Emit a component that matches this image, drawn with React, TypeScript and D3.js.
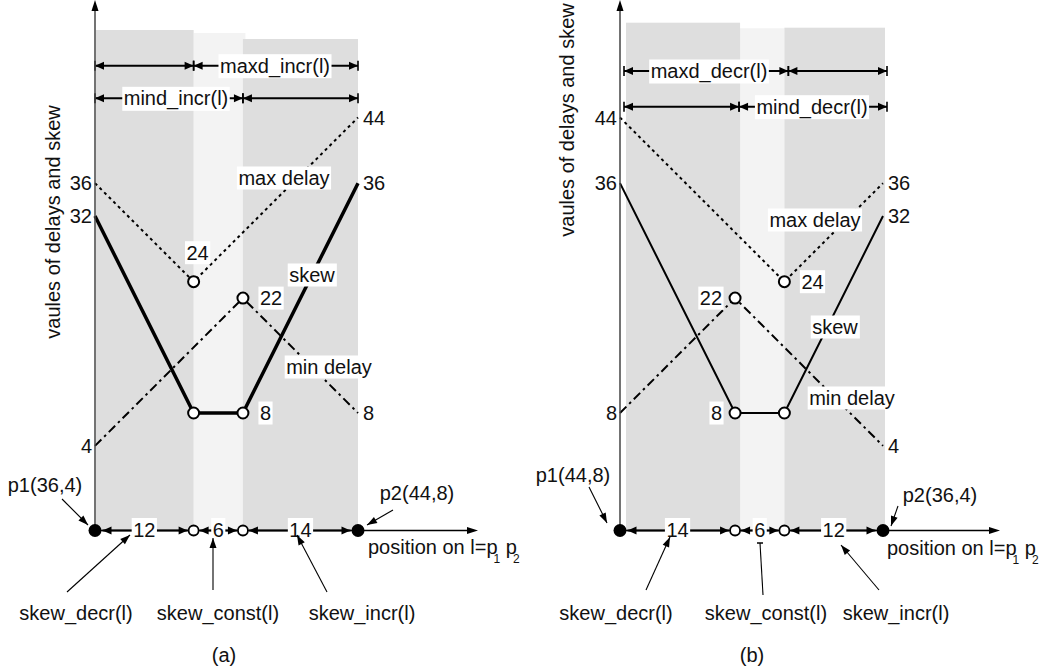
import React, { useRef, useEffect } from 'react';
import * as d3 from 'd3';

const FONT = '"Liberation Sans", Arial, Helvetica, sans-serif';

// ── Data: breakpoints on l and the three curves for each case ───────────────
const breaksA = [0, 12, 18, 32];
const maxDelayA = [[0, 36], [12, 24], [32, 44]];
const minDelayA = [[0, 4], [18, 22], [32, 8]];
const skewA = [[0, 32], [12, 8], [18, 8], [32, 36]];

const breaksB = [0, 14, 20, 32];
const maxDelayB = [[0, 44], [20, 24], [32, 36]];
const minDelayB = [[0, 8], [14, 22], [32, 4]];
const skewB = [[0, 36], [14, 8], [20, 8], [32, 32]];

const curveNames = ['max delay', 'skew', 'min delay'];
const regionNames = ['skew_decr(l)', 'skew_const(l)', 'skew_incr(l)'];
const yTitle = 'vaules of delays and skew';

const W = 1049;
const H = 672;
const AXIS_Y = 530.5;

const panels = [
  {
    ox: 95, tip: 478, breaks: breaksA, maxDelay: maxDelayA, minDelay: minDelayA, skew: skewA,
    skewWidth: 3.5, bandTops: [30, 33, 39], bandPad: [1, 2.5, 0], title: [53, 222], dimDx: 0,
    dims: [
      { y: 65.7, split: 1, label: 'maxd_incr(l)', seg: 1, lx: 275 },
      { y: 98.3, split: 2, label: 'mind_incr(l)', seg: 0, lx: 176 },
    ],
    place: { max: ['L', 'T', 'R'], min: ['L', 'Rb', 'R'], skew: ['L', null, 'Rb', 'R'] },
    curveLbl: [[284, 178], [312, 275], [329, 367]],
    p1: { x: 45, y: 485, from: [62, 499], to: [88, 525] },
    p2: { x: 417, y: 493, from: [393, 510], to: [367, 525] },
    posText: [368, 547],
    regions: [
      { x: 76, from: [67, 592], to: [130, 535] },
      { x: 218, from: [213, 590], to: [213, 538] },
      { x: 362, from: [327, 592], to: [297, 535] },
    ],
    caption: ['(a)', 224],
  },
  {
    ox: 620, tip: 1000, breaks: breaksB, maxDelay: maxDelayB, minDelay: minDelayB, skew: skewB,
    skewWidth: 2, bandTops: [22.7, 28.3, 27.7], bandPad: [6, 0, 2], title: [567, 120], dimDx: 4,
    dims: [
      { y: 71, split: 2, label: 'maxd_decr(l)', seg: 0, lx: 709 },
      { y: 106.7, split: 1, label: 'mind_decr(l)', seg: 1, lx: 812 },
    ],
    place: { max: ['L', 'Rb', 'R'], min: ['L', 'Lb', 'R'], skew: ['L', 'Lb', null, 'R'] },
    curveLbl: [[815, 220], [835, 327], [852, 398]],
    p1: { x: 573, y: 475, from: [589, 487], to: [607, 523] },
    p2: { x: 940, y: 495, from: [898, 506], to: [891, 526] },
    posText: [887, 548],
    regions: [
      { x: 616, from: [646, 590], to: [670, 537] },
      { x: 766, from: [763, 595], to: [760, 543], flat: true },
      { x: 896, from: [879, 590], to: [841, 545] },
    ],
    caption: ['(b)', 752],
  },
];

function label(g, text, x, y, anchor, bg) {
  const t = g.append('text')
    .attr('x', x).attr('y', y).attr('dy', '0.35em')
    .attr('text-anchor', anchor)
    .attr('font-family', FONT).attr('font-size', 20)
    .attr('fill', '#111')
    .text(text);
  if (bg) {
    const b = t.node().getBBox();
    g.insert('rect', () => t.node())
      .attr('x', b.x - 1.5).attr('y', b.y - 0.5)
      .attr('width', b.width + 3).attr('height', b.height + 1)
      .attr('fill', '#fff');
  }
  return t;
}

function head(g, x, y, dir, len = 9, half = 4) {
  // filled triangle, tip at (x,y), pointing along dir (radians)
  const c = Math.cos(dir), s = Math.sin(dir);
  const bx = x - c * len, by = y - s * len;
  g.append('path')
    .attr('d', `M${x},${y}L${bx - s * half},${by + c * half}L${bx + s * half},${by - c * half}Z`)
    .attr('fill', '#000');
}

function pointer(g, from, to, flat) {
  g.append('line')
    .attr('x1', from[0]).attr('y1', from[1]).attr('x2', to[0]).attr('y2', to[1])
    .attr('stroke', '#000').attr('stroke-width', 1.1);
  if (flat) {
    g.append('line')
      .attr('x1', to[0] - 3).attr('x2', to[0] + 3).attr('y1', to[1]).attr('y2', to[1])
      .attr('stroke', '#000').attr('stroke-width', 1.5);
  } else {
    head(g, to[0], to[1], Math.atan2(to[1] - from[1], to[0] - from[0]), 10, 3.5);
  }
}

function dimLine(g, x1, x2, y, ticks) {
  g.append('line')
    .attr('x1', x1).attr('x2', x2).attr('y1', y).attr('y2', y)
    .attr('stroke', '#000').attr('stroke-width', 2);
  head(g, x1, y, Math.PI);
  head(g, x2, y, 0);
  if (ticks) {
    [x1, x2].forEach(x => {
      g.append('line')
        .attr('x1', x).attr('x2', x).attr('y1', y - 5).attr('y2', y + 5)
        .attr('stroke', '#000').attr('stroke-width', 1.6);
    });
  }
}

function drawPanel(svg, p) {
  const x = d3.scaleLinear().domain([0, 32]).range([p.ox, p.ox + 263]);
  const y = d3.scaleLinear().domain([0, 44]).range([478.7, 117.5]);
  const g = svg.append('g');
  const b = p.breaks;

  // ── Bands ──
  const bands = [
    { x0: x(b[0]) + p.bandPad[0], x1: x(b[1]) + (p.ox > 500 ? 5 : 0), top: p.bandTops[0], fill: '#dedede' },
    { x0: x(b[1]), x1: x(b[2]) + p.bandPad[1], top: p.bandTops[1], fill: '#f3f3f3' },
    { x0: x(b[2]), x1: x(b[3]) + p.bandPad[2], top: p.bandTops[2], fill: '#dedede' },
  ];
  [bands[1], bands[0], bands[2]].forEach(bd => {
    g.append('rect')
      .attr('x', bd.x0).attr('y', bd.top)
      .attr('width', bd.x1 - bd.x0).attr('height', AXIS_Y - bd.top)
      .attr('fill', bd.fill);
  });

  // ── Dimension rows (maxd / mind) ──
  p.dims.forEach(d => {
    const xs = [x(b[0]), x(b[d.split]), x(b[3])].map(v => v + p.dimDx);
    dimLine(g, xs[0], xs[1], d.y, true);
    dimLine(g, xs[1], xs[2], d.y, true);
    label(g, d.label, d.lx, d.y, 'middle', true);
  });

  // ── Curves ──
  const line = d3.line().x(d => x(d[0])).y(d => y(d[1]));
  g.append('path').datum(p.maxDelay).attr('d', line)
    .attr('fill', 'none').attr('stroke', '#000').attr('stroke-width', 2)
    .attr('stroke-dasharray', '3,3.5');
  g.append('path').datum(p.minDelay).attr('d', line)
    .attr('fill', 'none').attr('stroke', '#000').attr('stroke-width', 2)
    .attr('stroke-dasharray', '9,4,2.5,4');
  g.append('path').datum(p.skew).attr('d', line)
    .attr('fill', 'none').attr('stroke', '#000').attr('stroke-width', p.skewWidth);

  // ── Open circles at turning points ──
  [p.maxDelay[1], p.minDelay[1], p.skew[1], p.skew[2]].forEach(pt => {
    g.append('circle')
      .attr('cx', x(pt[0])).attr('cy', y(pt[1])).attr('r', 5.5)
      .attr('fill', '#fff').attr('stroke', '#000').attr('stroke-width', 2);
  });

  // ── Value labels ──
  const put = (pts, modes) => pts.forEach((pt, i) => {
    const m = modes[i];
    if (!m) return;
    const px = x(pt[0]), py = y(pt[1]);
    const t = String(pt[1]);
    if (m === 'L') label(g, t, px - 3, py, 'end', false);
    if (m === 'R') label(g, t, px + 5, py, 'start', false);
    if (m === 'T') label(g, t, px + 4, py - 29, 'middle', true);
    if (m === 'Rb') label(g, t, px + 17, py, 'start', true);
    if (m === 'Lb') label(g, t, px - 13, py, 'end', true);
  });
  put(p.maxDelay, p.place.max);
  put(p.minDelay, p.place.min);
  put(p.skew, p.place.skew);

  curveNames.forEach((n, i) => label(g, n, p.curveLbl[i][0], p.curveLbl[i][1], 'middle', true));

  // ── Axes ──
  g.append('line')
    .attr('x1', p.ox).attr('x2', p.ox).attr('y1', 8).attr('y2', AXIS_Y)
    .attr('stroke', '#444').attr('stroke-width', 1.5);
  head(g, p.ox, 0, -Math.PI / 2, 11, 3.5);
  g.append('line')
    .attr('x1', p.ox).attr('x2', p.tip - 8).attr('y1', AXIS_Y).attr('y2', AXIS_Y)
    .attr('stroke', '#000').attr('stroke-width', 1.3);
  head(g, p.tip, AXIS_Y, 0, 11, 3.5);

  // segment lengths along l
  for (let i = 0; i < 3; i++) {
    const r0 = i === 0 ? 6.5 : 5, r1 = i === 2 ? 6.5 : 5;
    const x0 = x(b[i]) + r0 + 1, x1 = x(b[i + 1]) - r1 - 1;
    dimLine(g, x0, x1, AXIS_Y, false);
    label(g, String(b[i + 1] - b[i]), (x(b[i]) + x(b[i + 1])) / 2, AXIS_Y - 1, 'middle', true);
  }
  [b[0], b[3]].forEach(v => {
    g.append('circle').attr('cx', x(v)).attr('cy', AXIS_Y).attr('r', 6.5).attr('fill', '#000');
  });
  [b[1], b[2]].forEach(v => {
    g.append('circle').attr('cx', x(v)).attr('cy', AXIS_Y).attr('r', 5)
      .attr('fill', '#fff').attr('stroke', '#000').attr('stroke-width', 1.8);
  });

  // ── Endpoint annotations ──
  const last = p.maxDelay.length - 1;
  label(g, `p1(${p.maxDelay[0][1]},${p.minDelay[0][1]})`, p.p1.x, p.p1.y, 'middle', false);
  pointer(g, p.p1.from, p.p1.to);
  label(g, `p2(${p.maxDelay[last][1]},${p.minDelay[last][1]})`, p.p2.x, p.p2.y, 'middle', false);
  pointer(g, p.p2.from, p.p2.to);

  const pt = g.append('text')
    .attr('x', p.posText[0]).attr('y', p.posText[1]).attr('dy', '0.35em')
    .attr('font-family', FONT).attr('font-size', 20).attr('fill', '#111');
  pt.append('tspan').text('position on l=p');
  pt.append('tspan').attr('dx', -4).attr('dy', 9).attr('font-size', 12).text('1');
  pt.append('tspan').attr('dy', -9).text(' p');
  pt.append('tspan').attr('dx', -4).attr('dy', 9).attr('font-size', 12).text('2');

  regionNames.forEach((n, i) => {
    const r = p.regions[i];
    label(g, n, r.x, 613, 'middle', false);
    pointer(g, r.from, r.to, r.flat);
  });

  label(g, p.caption[0], p.caption[1], 655, 'middle', false);

  g.append('text')
    .attr('transform', `translate(${p.title[0]},${p.title[1]}) rotate(-90)`)
    .attr('dy', '0.35em')
    .attr('text-anchor', 'middle')
    .attr('font-family', FONT).attr('font-size', 20).attr('fill', '#111')
    .text(yTitle);
}

export default function App() {
  const ref = useRef(null);

  useEffect(() => {
    const svg = d3.select(ref.current);
    svg.selectAll('*').remove();
    svg.append('rect').attr('width', W).attr('height', H).attr('fill', '#fff');
    panels.forEach(p => drawPanel(svg, p));
  }, []);

  return (
    <svg
      ref={ref}
      width={W}
      height={H}
      style={{ position: 'absolute', left: 0, top: 0, display: 'block' }}
    />
  );
}
